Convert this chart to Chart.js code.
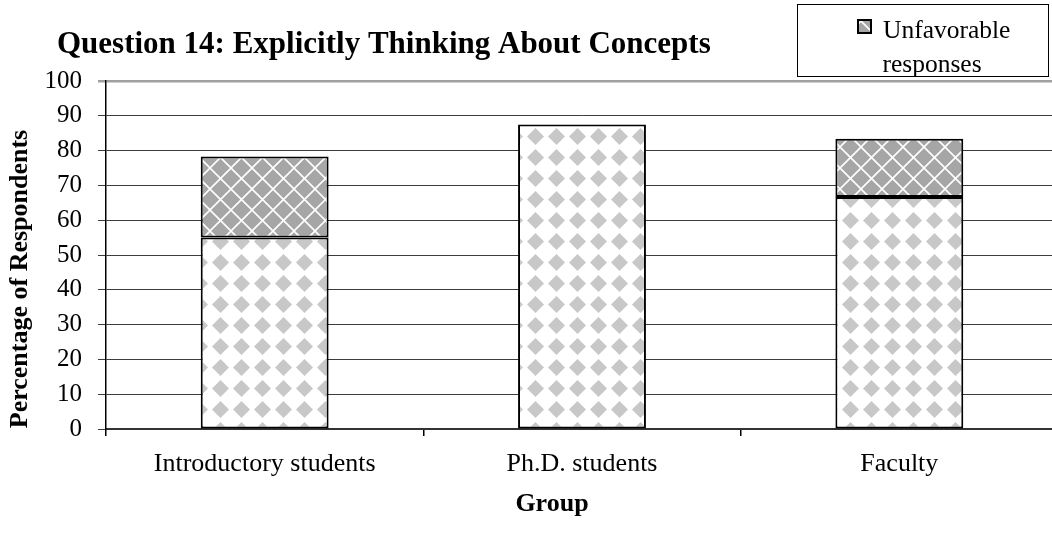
<!DOCTYPE html>
<html>
<head>
<meta charset="utf-8">
<script src="https://cdn.jsdelivr.net/npm/chart.js@4/dist/chart.umd.min.js"></script>
<style>
html,body{margin:0;padding:0;background:#fff;overflow:hidden;width:1052px;height:538px;}
#wrap{position:absolute;left:0;top:0;width:1060px;height:538px;}
</style>
</head>
<body>
<div id="wrap"><canvas id="c" width="1060" height="538"></canvas></div>
<script>
const categories = ["Introductory students", "Ph.D. students", "Faculty"];
const favorable = [55.0, 87.5, 66.7];
const unfavorable = [23.3, 0, 16.7];
const seriesNames = ["Favorable responses", "Unfavorable responses"];
const yTicks = [0, 10, 20, 30, 40, 50, 60, 70, 80, 90, 100];
const chartTitle = "Question 14: Explicitly Thinking About Concepts";
const xTitle = "Group";
const yTitle = "Percentage of Respondents";

const SERIF = '"Liberation Serif", "Times New Roman", serif';

function diamondPattern() {
  const s = 21;
  const c = document.createElement('canvas');
  c.width = s; c.height = s;
  const g = c.getContext('2d');
  g.fillStyle = '#ffffff';
  g.fillRect(0, 0, s, s);
  g.fillStyle = '#c8c8c8';
  const cx = s / 2, cy = s / 2, r = 8.5;
  g.beginPath();
  g.moveTo(cx, cy - r); g.lineTo(cx + r, cy); g.lineTo(cx, cy + r); g.lineTo(cx - r, cy);
  g.closePath(); g.fill();
  return g.createPattern(c, 'repeat');
}
function latticePattern() {
  const s = 21;
  const c = document.createElement('canvas');
  c.width = s; c.height = s;
  const g = c.getContext('2d');
  g.fillStyle = '#a6a6a6';
  g.fillRect(0, 0, s, s);
  g.strokeStyle = '#ffffff';
  g.lineWidth = 1.6;
  g.beginPath();
  g.moveTo(-2, -2); g.lineTo(s + 2, s + 2);
  g.moveTo(s + 2, -2); g.lineTo(-2, s + 2);
  g.stroke();
  return g.createPattern(c, 'repeat');
}
const favFill = diamondPattern();
const unfavFill = latticePattern();

const overlay = {
  id: 'overlay',
  afterDraw(chart) {
    const ctx = chart.ctx;
    ctx.save();
    ctx.fillStyle = '#000';
    // title
    ctx.font = 'bold 31px ' + SERIF;
    ctx.textAlign = 'left';
    ctx.textBaseline = 'alphabetic';
    ctx.fillText(chartTitle, 57, 53);
    // x title
    ctx.font = 'bold 26px ' + SERIF;
    ctx.textAlign = 'center';
    ctx.textBaseline = 'middle';
    ctx.fillText(xTitle, 552, 504);
    // y title
    ctx.save();
    ctx.translate(27, 279);
    ctx.rotate(-Math.PI / 2);
    ctx.textBaseline = 'alphabetic';
    ctx.fillText(yTitle, 0, 0);
    ctx.restore();
    // legend box
    const bx = 797.5, by = 4.5, bw = 251, bh = 72;
    ctx.fillStyle = '#fff';
    ctx.fillRect(bx, by, bw, bh);
    ctx.strokeStyle = '#000';
    ctx.lineWidth = 1;
    ctx.strokeRect(bx, by, bw, bh);
    ctx.font = '25.5px ' + SERIF;
    ctx.textBaseline = 'alphabetic';
    const words = seriesNames[1].split(' ');
    const l1 = words[0], l2 = words.slice(1).join(' ');
    const mx = 858, my = 20, mk = 13;
    ctx.fillStyle = unfavFill;
    ctx.fillRect(mx, my, mk, mk);
    ctx.lineWidth = 2;
    ctx.strokeStyle = '#000';
    ctx.strokeRect(mx, my, mk, mk);
    ctx.fillStyle = '#000';
    ctx.textAlign = 'left';
    ctx.fillText(l1, 883, 38);
    ctx.textAlign = 'center';
    ctx.fillText(l2, 932, 72);
    ctx.restore();
  }
};

new Chart(document.getElementById('c'), {
  type: 'bar',
  data: {
    labels: categories,
    datasets: [
      { label: seriesNames[0], data: favorable, backgroundColor: favFill, borderColor: '#000', borderWidth: 2, borderSkipped: false },
      { label: seriesNames[1], data: unfavorable, backgroundColor: unfavFill, borderColor: '#000', borderWidth: 2, borderSkipped: false }
    ]
  },
  options: {
    responsive: false,
    animation: false,
    devicePixelRatio: 1,
    layout: { padding: { left: 0, right: 2, top: 81, bottom: 0 } },
    datasets: { bar: { categoryPercentage: 0.403, barPercentage: 1.0 } },
    plugins: { legend: { display: false }, title: { display: false }, tooltip: { enabled: false } },
    scales: {
      x: {
        stacked: true,
        afterFit(s) { s.height = 109; },
        grid: { display: true, drawOnChartArea: false, drawTicks: true, tickLength: 7, color: '#000', lineWidth: 1.5, offset: true },
        border: { display: true, color: '#333', width: 2 },
        ticks: { color: '#000', font: { family: SERIF, size: 26 }, padding: 13, maxRotation: 0 }
      },
      y: {
        stacked: true,
        min: 0, max: 100,
        afterFit(s) { s.width = 106; },
        afterBuildTicks(s) { s.ticks = yTicks.map(v => ({ value: v })); },
        grid: {
          color: (c) => (c.tick && c.tick.value === 100) ? '#a0a0a0' : '#3c3c3c',
          lineWidth: (c) => (c.tick && c.tick.value === 100) ? 2.5 : 1,
          tickLength: 8
        },
        border: { display: true, color: '#000', width: 1.5 },
        ticks: { color: '#000', font: { family: SERIF, size: 25 }, padding: 16 }
      }
    }
  },
  plugins: [overlay]
});
</script>
</body>
</html>
